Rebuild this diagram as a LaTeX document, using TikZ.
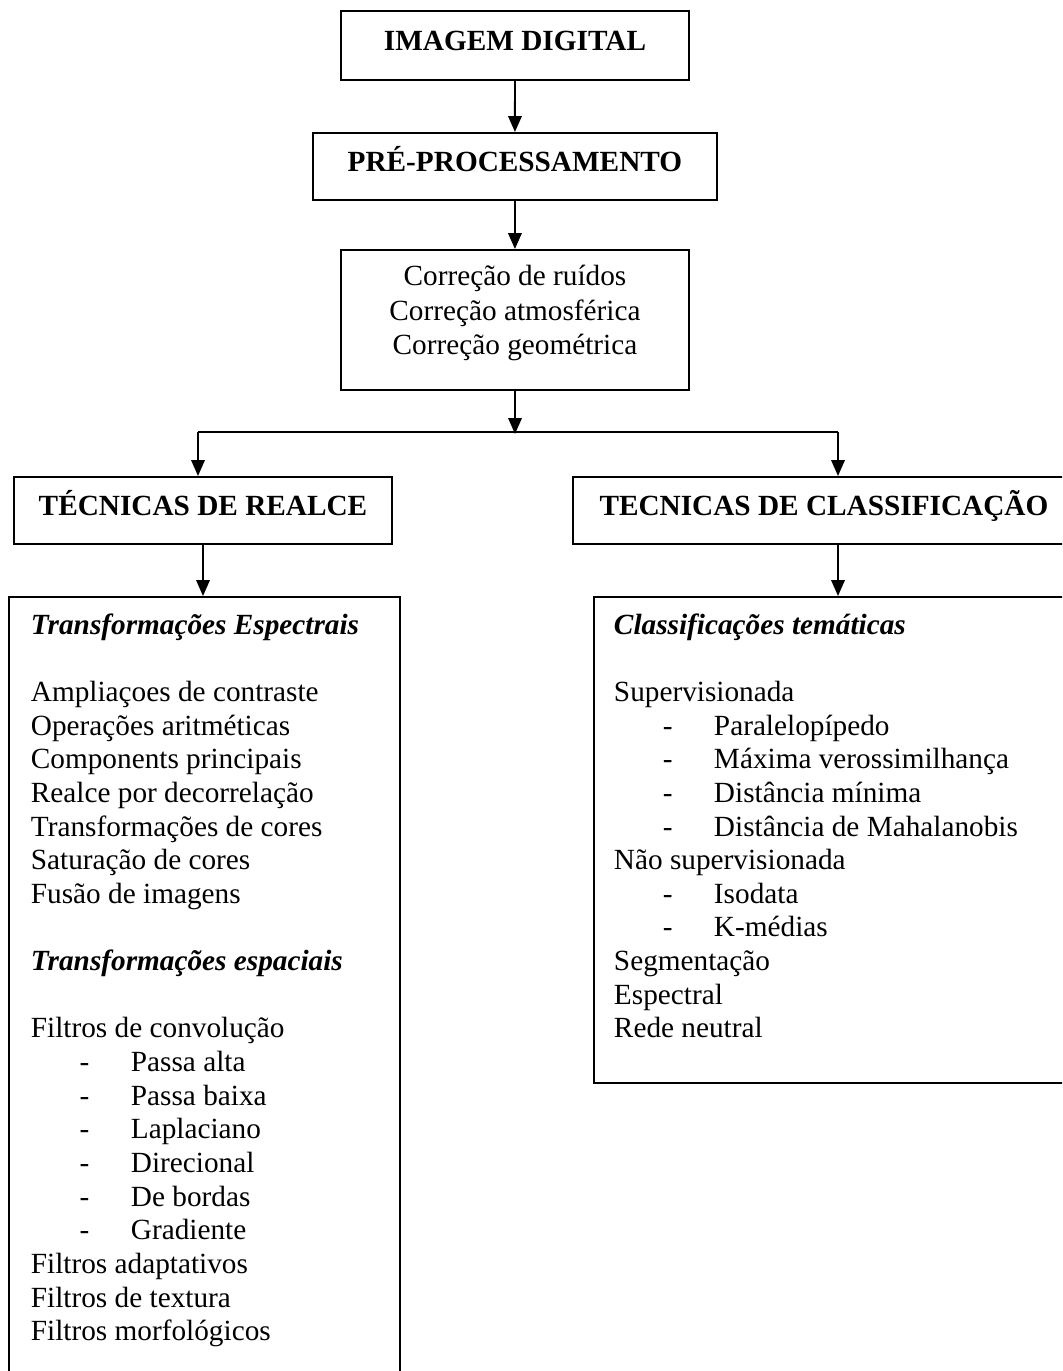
\documentclass[tikz,border=0pt]{standalone}
\usepackage{fontspec}
\setmainfont{Liberation Serif}
\usetikzlibrary{arrows.meta}

\newcommand{\itemtraco}[1]{\hspace*{20pt}\makebox[21pt][l]{-}#1}

\begin{document}
\begin{tikzpicture}[x=0.41pt, y=-0.41pt,
    every node/.style={font=\fontsize{12}{13.8}\selectfont},
    titulo/.style={draw, thick, anchor=north west, inner sep=0pt,
      font=\fontsize{12}{13.8}\selectfont\bfseries, text height=9pt, text depth=5pt},
    caixa/.style={draw, thick, anchor=north west, inner ysep=0pt},
    seta/.style={thick, -{Triangle[length=6.5pt,width=5.5pt]}}]

    \useasboundingbox (0,0) rectangle (1062,1371);
    \clip (0,0) rectangle (1062,1371);

    % Caixas do topo
    \node[titulo, minimum width=142.7pt, minimum height=28.3pt] (imagem) at (340,10) {IMAGEM DIGITAL};
    \node[titulo, minimum width=165.6pt, minimum height=27.5pt] (pre) at (312,132) {PRÉ-PROCESSAMENTO};
    \node[caixa, inner xsep=0pt] (correcao) at (340,249)
      {\parbox[t][57.4pt][t]{142.7pt}{\centering\fontsize{12}{14.2}\selectfont
       \rule{0pt}{14.6pt}Correção de ruídos\\
       Correção atmosférica\\Correção geométrica}};

    % Ramificacao
    \path (correcao.south) ++(0,43) coordinate (juncao);
    \coordinate (esq) at (198,432);
    \coordinate (dir) at (838,432);

    % Tecnicas
    \node[titulo, minimum width=155pt, minimum height=27.5pt] (realce) at (13,476) {TÉCNICAS DE REALCE};
    \node[titulo, minimum width=205.8pt, minimum height=27.5pt] (classif) at (572,476) {TECNICAS DE CLASSIFICAÇÃO};

    % Listas
    \node[caixa, inner xsep=9pt] (listarealce) at (8,596)
      {\parbox[t][328pt][t]{142.3pt}{\raggedright\rule{0pt}{15.2pt}%
       \textbf{\textit{Transformações Espectrais}}\\[13.8pt]
       Ampliaçoes de contraste\\
       Operações aritméticas\\
       Components principais\\
       Realce por decorrelação\\
       Transformações de cores\\
       Saturação de cores\\
       Fusão de imagens\\[13.8pt]
       \textbf{\textit{Transformações espaciais}}\\[13.8pt]
       Filtros de convolução\\
       \itemtraco{Passa alta}\\
       \itemtraco{Passa baixa}\\
       \itemtraco{Laplaciano}\\
       \itemtraco{Direcional}\\
       \itemtraco{De bordas}\\
       \itemtraco{Gradiente}\\
       Filtros adaptativos\\
       Filtros de textura\\
       Filtros morfológicos}};
    \node[caixa, inner xsep=8.2pt] (listaclassif) at (593,596)
      {\parbox[t][199.3pt][t]{183.3pt}{\raggedright\rule{0pt}{15.2pt}%
       \textbf{\textit{Classificações temáticas}}\\[13.8pt]
       Supervisionada\\
       \itemtraco{Paralelopípedo}\\
       \itemtraco{Máxima verossimilhança}\\
       \itemtraco{Distância mínima}\\
       \itemtraco{Distância de Mahalanobis}\\
       Não supervisionada\\
       \itemtraco{Isodata}\\
       \itemtraco{K-médias}\\
       Segmentação\\
       Espectral\\
       Rede neutral}};

    % Setas
    \draw[seta] (imagem) -- (pre);
    \draw[seta] (pre.south) -- (pre.south |- correcao.north);
    \draw[seta] (correcao) -- (juncao);
    \draw[thick] (esq) -- (dir);
    \draw[seta] (esq) -- (esq |- realce.north);
    \draw[seta] (dir) -- (dir |- classif.north);
    \draw[seta] (realce) -- (realce.south |- listarealce.north);
    \draw[seta] (classif.south -| dir) -- (listaclassif.north -| dir);

\end{tikzpicture}
\end{document}
